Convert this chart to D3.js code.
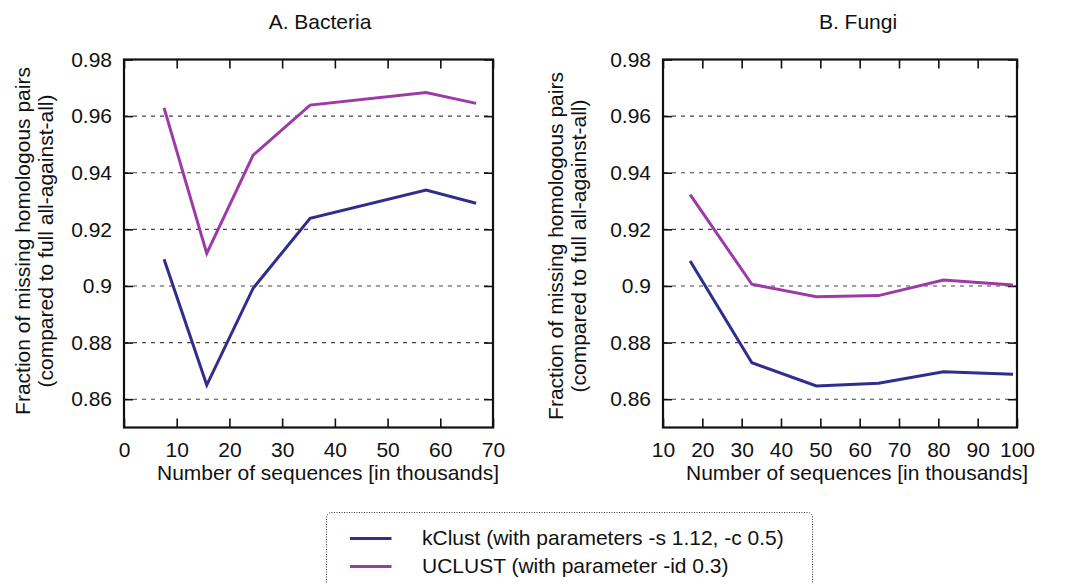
<!DOCTYPE html>
<html>
<head>
<meta charset="utf-8">
<script src="https://cdn.jsdelivr.net/npm/d3@7"></script>
<style>
  body { margin: 0; background: #fff; }
  svg text { font-family: "Liberation Sans", Arial, sans-serif; fill: #111; }
</style>
</head>
<body>
<div class="chart"></div>
<script>
// ---- data
var seriesNames = ["kClust (with parameters -s 1.12, -c 0.5)", "UCLUST (with parameter -id 0.3)"];
var seriesColors = ["#2e2e8f", "#9e3aa8"];

var bacteriaX = [7.6, 15.7, 24.5, 35.3, 57.3, 66.8];
var bacteriaKclust = [0.9094, 0.8650, 0.8992, 0.9239, 0.9339, 0.9292];
var bacteriaUclust = [0.9629, 0.9115, 0.9462, 0.9639, 0.9683, 0.9645];

var fungiX = [16.9, 32.6, 49.0, 64.8, 81.3, 99.0];
var fungiKclust = [0.9088, 0.8729, 0.8647, 0.8656, 0.8697, 0.8688];
var fungiUclust = [0.9323, 0.9006, 0.8962, 0.8966, 0.9021, 0.9003];

var yTicks = [0.86, 0.88, 0.9, 0.92, 0.94, 0.96, 0.98];
var bacteriaXTicks = [0, 10, 20, 30, 40, 50, 60, 70];
var fungiXTicks = [10, 20, 30, 40, 50, 60, 70, 80, 90, 100];

var panels = [
  { title: "A. Bacteria", left: 124, right: 493, xDomain: [0, 70], xTicks: bacteriaXTicks,
    x: bacteriaX, series: [bacteriaKclust, bacteriaUclust],
    titleX: 320, xTitleX: 328, yTitleX: 30, yTitleY: 241 },
  { title: "B. Fungi", left: 663, right: 1017, xDomain: [10, 100], xTicks: fungiXTicks,
    x: fungiX, series: [fungiKclust, fungiUclust],
    titleX: 858, xTitleX: 857, yTitleX: 563, yTitleY: 246 }
];

var width = 1075, height = 584;
var plotTop = 59.5, plotBottom = 427.5;
var fontSize = "21px";

var svg = d3.select(".chart")
  .append("svg")
    .attr("width", width)
    .attr("height", height);

var y = d3.scaleLinear()
  .domain([0.85, 0.98])
  .range([plotBottom, plotTop]);

panels.forEach(function(p) {
  var x = d3.scaleLinear()
    .domain(p.xDomain)
    .range([p.left, p.right]);

  var g = svg.append("g");

  // dashed grid
  g.selectAll(".grid")
    .data(yTicks.slice(0, -1))
    .enter()
    .append("line")
      .attr("x1", p.left).attr("x2", p.right)
      .attr("y1", function(d) { return y(d); })
      .attr("y2", function(d) { return y(d); })
      .attr("stroke", "#444")
      .attr("stroke-width", 1.1)
      .attr("stroke-dasharray", "4,5");

  // ---- X axis (bottom, inner ticks) + mirrored top ticks
  var xAxis = g.append("g")
    .attr("transform", "translate(0," + plotBottom + ")")
    .call(d3.axisBottom(x).tickValues(p.xTicks).tickSize(-9).tickPadding(14.5).tickFormat(d3.format("d")));
  xAxis.select(".domain").remove();
  xAxis.selectAll("line").attr("stroke", "#111").attr("stroke-width", 1.6);
  xAxis.selectAll("text").style("font-size", fontSize).attr("fill", "#111");

  var xTop = g.append("g")
    .attr("transform", "translate(0," + plotTop + ")")
    .call(d3.axisTop(x).tickValues(p.xTicks).tickSize(-9).tickFormat(""));
  xTop.select(".domain").remove();
  xTop.selectAll("line").attr("stroke", "#111").attr("stroke-width", 1.6);

  // ---- Y axis
  var yAxis = g.append("g")
    .attr("transform", "translate(" + p.left + ",0)")
    .call(d3.axisLeft(y).tickValues(yTicks).tickSize(-9).tickPadding(12).tickFormat(d3.format("")));
  yAxis.select(".domain").remove();
  yAxis.selectAll("line").attr("stroke", "#111").attr("stroke-width", 1.6);
  yAxis.selectAll("text").style("font-size", fontSize).attr("fill", "#111");

  var yRight = g.append("g")
    .attr("transform", "translate(" + p.right + ",0)")
    .call(d3.axisRight(y).tickValues(yTicks).tickSize(-9).tickFormat(""));
  yRight.select(".domain").remove();
  yRight.selectAll("line").attr("stroke", "#111").attr("stroke-width", 1.6);

  // frame
  g.append("rect")
    .attr("x", p.left).attr("y", plotTop)
    .attr("width", p.right - p.left).attr("height", plotBottom - plotTop)
    .attr("fill", "none")
    .attr("stroke", "#111")
    .attr("stroke-width", 2.2);

  // ---- lines
  var line = d3.line()
    .x(function(d) { return x(d[0]); })
    .y(function(d) { return y(d[1]); });

  p.series.forEach(function(vals, i) {
    g.append("path")
      .datum(p.x.map(function(v, j) { return [v, vals[j]]; }))
      .attr("fill", "none")
      .attr("stroke", seriesColors[i])
      .attr("stroke-width", 3)
      .attr("d", line);
  });

  // titles
  g.append("text")
    .attr("x", p.titleX).attr("y", 29)
    .attr("text-anchor", "middle")
    .style("font-size", fontSize)
    .text(p.title);

  g.append("text")
    .attr("x", p.xTitleX).attr("y", 480)
    .attr("text-anchor", "middle")
    .style("font-size", fontSize)
    .text("Number of sequences [in thousands]");

  var ty = g.append("text")
    .attr("transform", "translate(" + p.yTitleX + "," + p.yTitleY + ") rotate(-90)")
    .attr("text-anchor", "middle")
    .style("font-size", fontSize);
  ty.append("tspan").attr("x", 0).attr("dy", 0).text("Fraction of missing homologous pairs");
  ty.append("tspan").attr("x", 0).attr("dy", 22.5).text("(compared to full all-against-all)");
});

// ---- legend
var legend = svg.append("g");
legend.append("rect")
  .attr("x", 326.5).attr("y", 512.5)
  .attr("width", 486).attr("height", 90)
  .attr("rx", 5)
  .attr("fill", "none")
  .attr("stroke", "#333")
  .attr("stroke-width", 1)
  .attr("stroke-dasharray", "1,1.5");

seriesNames.forEach(function(name, i) {
  var ly = 538.5 + i * 28;
  legend.append("line")
    .attr("x1", 350).attr("x2", 391.5)
    .attr("y1", ly).attr("y2", ly)
    .attr("stroke", seriesColors[i])
    .attr("stroke-width", 3);
  legend.append("text")
    .attr("x", 422).attr("y", ly + 6.5)
    .style("font-size", fontSize)
    .text(name);
});
</script>
</body>
</html>
